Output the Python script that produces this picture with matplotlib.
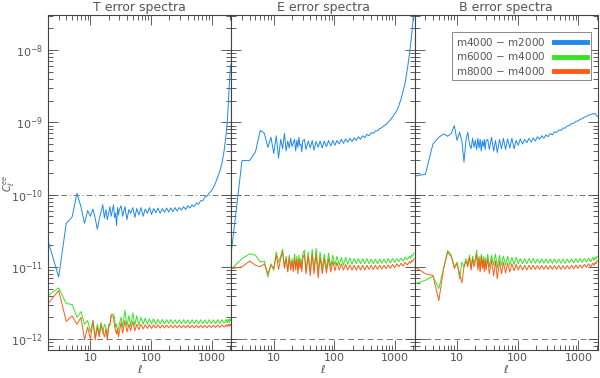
import numpy as np
import matplotlib
matplotlib.use("Agg")
import matplotlib.pyplot as plt
from matplotlib.ticker import FixedLocator, FixedFormatter, LogLocator, NullFormatter

# multipoles: every ell from 2 to 30, then a sparser log-ish grid up to 2048
ell_lo = list(range(2, 31))
ell_hi = [32, 34, 37, 40, 43, 46, 50, 54, 58, 63, 68, 74, 80, 87, 94, 102, 110, 120,
          130, 141, 153, 166, 180, 195, 211, 229, 248, 269, 292, 316, 343, 372, 403,
          437, 474, 514, 557, 604, 655, 710, 770, 835, 905, 981, 1064, 1153, 1250,
          1356, 1470, 1594, 1728, 1800, 1873, 1950, 2000, 2048]
ell = np.array(ell_lo + ell_hi)

panels = ["T", "E", "B"]
labels = ["m4000 $-$ m2000", "m6000 $-$ m4000", "m8000 $-$ m4000"]

# T spectra  (blue in 1e-10, green/orange in 1e-12)
T_m4000_m2000 = [0.23, 0.072, 0.40, 0.49, 1.04, 0.67, 0.40, 0.60, 0.50, 0.63, 0.47, 0.33,
                 0.46, 0.58, 0.72, 0.47, 0.62, 0.45, 0.55, 0.68, 0.50, 0.60, 0.72, 0.48,
                 0.55, 0.37, 0.66, 0.52, 0.62,
                 0.70, 0.50, 0.68, 0.45, 0.62, 0.55, 0.66, 0.48, 0.64, 0.52,
                 0.66, 0.50, 0.63, 0.55, 0.66, 0.53, 0.64, 0.56, 0.65, 0.55,
                 0.64, 0.57, 0.65, 0.57, 0.65, 0.58, 0.66, 0.59, 0.66, 0.61,
                 0.68, 0.62, 0.70, 0.65, 0.72, 0.68, 0.76, 0.73, 0.82, 0.82,
                 0.92, 0.95, 1.05, 1.12, 1.25, 1.45, 1.75, 2.1, 2.7, 4.0,
                 7.0, 10, 18, 35, 48, 62]
T_m6000_m4000 = [4.0, 5.1, 3.1, 3.0, 2.0, 2.4, 1.6, 1.8, 1.25, 1.8, 1.07, 1.6, 1.2, 1.7,
                 1.2, 1.6, 1.46, 1.07, 1.6, 1.55, 2.2, 2.2, 2.2, 2.0, 1.46, 1.6, 1.18,
                 1.4, 1.6,
                 2.0, 1.45, 2.5, 1.5, 2.1, 1.5, 2.3, 1.55, 2.1, 1.55,
                 2.0, 1.6, 1.95, 1.6, 1.9, 1.62, 1.9, 1.6, 1.88, 1.62,
                 1.86, 1.62, 1.86, 1.64, 1.86, 1.62, 1.85, 1.64, 1.84, 1.62,
                 1.85, 1.64, 1.84, 1.62, 1.85, 1.64, 1.84, 1.62, 1.85, 1.64,
                 1.84, 1.62, 1.85, 1.64, 1.84, 1.63, 1.86, 1.65, 1.85, 1.66,
                 1.87, 1.68, 1.88, 1.7, 1.9, 1.8]
T_m8000_m4000 = [3.1, 4.7, 1.75, 2.1, 1.6, 2.0, 0.97, 1.46, 1.0, 1.8, 0.97, 1.46, 1.07,
                 1.6, 1.3, 1.07, 1.38, 0.97, 1.46, 1.6, 2.1, 2.1, 2.0, 1.5, 1.3, 1.18,
                 1.38, 1.07, 1.25,
                 1.7, 1.2, 1.8, 1.25, 1.6, 1.3, 1.75, 1.3, 1.6, 1.35,
                 1.6, 1.38, 1.58, 1.4, 1.58, 1.4, 1.57, 1.42, 1.57, 1.42,
                 1.56, 1.42, 1.56, 1.43, 1.56, 1.43, 1.56, 1.43, 1.55, 1.43,
                 1.55, 1.43, 1.55, 1.43, 1.55, 1.43, 1.55, 1.43, 1.55, 1.43,
                 1.55, 1.43, 1.55, 1.44, 1.56, 1.44, 1.56, 1.45, 1.57, 1.46,
                 1.58, 1.48, 1.6, 1.5, 1.62, 1.55]

# E spectra  (blue in 1e-10, green/orange in 1e-11)
E_m4000_m2000 = [0.16, 2.95, 2.95, 3.9, 7.7, 7.0, 4.5, 6.2, 3.7, 6.5, 3.2, 5.8, 4.3, 7.0,
                 4.0, 5.5, 4.4, 6.0, 4.6, 5.2, 5.8, 4.0, 5.6, 4.5, 6.2, 4.8, 5.0, 3.9, 5.5,
                 5.8, 4.2, 5.5, 4.4, 5.6, 4.1, 5.4, 4.5, 5.5, 4.4,
                 5.5, 4.6, 5.6, 4.7, 5.6, 4.8, 5.6, 5.0, 5.8, 5.1,
                 5.9, 5.3, 6.0, 5.4, 6.1, 5.6, 6.3, 5.8, 6.5, 6.1,
                 6.8, 6.5, 7.2, 7.0, 7.6, 7.6, 8.2, 8.4, 9.0, 9.3,
                 10.0, 10.8, 11.8, 13.0, 14.5, 17.0, 21, 27, 36, 55,
                 90, 120, 160, 230, 300, 380]
E_m6000_m4000 = [0.94, 1.29, 1.51, 1.45, 1.16, 1.2, 0.72, 1.1, 0.89, 1.6, 1.15, 1.4, 1.75,
                 1.0, 1.4, 0.86, 1.45, 1.0, 1.3, 0.95, 1.5, 1.0, 1.4, 0.9, 1.45, 1.1, 1.3,
                 0.95, 1.5,
                 1.7, 0.9, 1.6, 0.85, 1.75, 0.9, 1.8, 0.85, 1.6, 0.95,
                 1.5, 0.95, 1.55, 1.0, 1.45, 1.05, 1.4, 1.05, 1.35, 1.05,
                 1.35, 1.08, 1.32, 1.08, 1.3, 1.1, 1.3, 1.1, 1.3, 1.1,
                 1.3, 1.1, 1.28, 1.1, 1.28, 1.1, 1.28, 1.12, 1.28, 1.12,
                 1.3, 1.12, 1.3, 1.15, 1.3, 1.18, 1.32, 1.2, 1.35, 1.25,
                 1.4, 1.3, 1.45, 1.4, 1.5, 1.55]
E_m8000_m4000 = [0.94, 1.0, 1.2, 1.05, 1.0, 1.1, 0.8, 1.05, 0.95, 1.45, 0.92, 1.3, 1.6,
                 0.95, 1.3, 0.85, 1.35, 0.9, 1.2, 0.85, 1.35, 0.9, 1.25, 0.8, 1.3, 0.95,
                 1.15, 0.85, 1.3,
                 1.5, 0.8, 1.4, 0.75, 1.5, 0.8, 1.5, 0.7, 1.35, 0.8,
                 1.3, 0.82, 1.3, 0.85, 1.2, 0.88, 1.15, 0.9, 1.1, 0.9,
                 1.08, 0.9, 1.06, 0.9, 1.05, 0.9, 1.05, 0.9, 1.05, 0.9,
                 1.05, 0.92, 1.05, 0.92, 1.05, 0.92, 1.05, 0.93, 1.05, 0.94,
                 1.06, 0.95, 1.08, 0.97, 1.1, 1.0, 1.12, 1.02, 1.15, 1.06,
                 1.18, 1.12, 1.22, 1.18, 1.25, 1.3]

# B spectra  (blue in 1e-10, green/orange in 1e-11)
B_m4000_m2000 = [1.8, 1.9, 5.0, 6.2, 6.9, 6.4, 7.0, 9.0, 5.6, 7.3, 5.5, 2.8, 5.6, 7.3,
                 5.0, 4.3, 6.0, 4.5, 5.6, 4.2, 6.0, 4.4, 5.8, 4.0, 5.5, 4.6, 5.8, 4.2, 5.5,
                 5.8, 4.2, 6.2, 4.0, 5.6, 3.8, 5.8, 4.3, 6.0, 4.2,
                 5.9, 4.4, 6.0, 4.3, 5.6, 4.8, 5.9, 5.0, 5.8, 5.2,
                 6.0, 5.3, 6.1, 5.5, 6.3, 5.8, 6.5, 6.0, 6.7, 6.3,
                 7.0, 6.7, 7.4, 7.2, 7.8, 7.7, 8.3, 8.3, 8.9, 9.0,
                 9.6, 9.7, 10.3, 10.4, 11.0, 11.2, 11.8, 12.0, 12.6, 12.7,
                 13.2, 13.0, 13.2, 12.6, 12.4, 12.0]
B_m6000_m4000 = [0.58, 0.65, 0.74, 0.50, 0.95, 1.68, 1.45, 1.0, 1.16, 0.68, 1.16, 1.0, 1.3,
                 1.1, 1.45, 0.95, 1.4, 1.1, 1.3, 1.7, 1.0, 1.4, 0.9, 1.5, 1.05, 1.4, 0.95,
                 1.35, 1.0,
                 1.5, 1.0, 1.45, 1.05, 1.5, 0.95, 1.45, 1.05, 1.4, 1.05,
                 1.4, 1.05, 1.35, 1.08, 1.35, 1.1, 1.3, 1.1, 1.3, 1.1,
                 1.3, 1.12, 1.3, 1.12, 1.28, 1.12, 1.28, 1.12, 1.28, 1.12,
                 1.28, 1.12, 1.28, 1.12, 1.28, 1.12, 1.28, 1.12, 1.28, 1.13,
                 1.28, 1.13, 1.3, 1.14, 1.3, 1.15, 1.3, 1.16, 1.32, 1.18,
                 1.34, 1.22, 1.36, 1.28, 1.38, 1.4]
B_m8000_m4000 = [1.0, 0.8, 0.76, 0.34, 0.95, 1.6, 1.4, 0.95, 1.1, 0.8, 0.6, 1.0, 1.2, 1.0,
                 1.35, 0.9, 1.3, 1.0, 1.2, 1.5, 0.9, 1.3, 0.85, 1.4, 0.95, 1.25, 0.85,
                 1.25, 0.9,
                 1.3, 0.8, 1.25, 0.75, 1.2, 0.68, 1.2, 0.8, 1.15, 0.82,
                 1.12, 0.85, 1.1, 0.88, 1.08, 0.9, 1.06, 0.9, 1.05, 0.9,
                 1.05, 0.92, 1.05, 0.92, 1.04, 0.92, 1.04, 0.92, 1.04, 0.92,
                 1.04, 0.92, 1.04, 0.92, 1.04, 0.92, 1.04, 0.93, 1.04, 0.93,
                 1.05, 0.94, 1.05, 0.95, 1.06, 0.96, 1.08, 0.98, 1.1, 1.0,
                 1.12, 1.04, 1.15, 1.1, 1.18, 1.22]

series = {
    "T": (np.array(T_m4000_m2000) * 1e-10, np.array(T_m6000_m4000) * 1e-12,
          np.array(T_m8000_m4000) * 1e-12),
    "E": (np.array(E_m4000_m2000) * 1e-10, np.array(E_m6000_m4000) * 1e-11,
          np.array(E_m8000_m4000) * 1e-11),
    "B": (np.array(B_m4000_m2000) * 1e-10, np.array(B_m6000_m4000) * 1e-11,
          np.array(B_m8000_m4000) * 1e-11),
}
colours = ["#1e88f0", "#33e622", "#ff5a1a"]
grey = "#555555"

fig = plt.figure(figsize=(6.0, 3.78), dpi=100)
W, H = 600.0, 378.0
left, right, top, bottom = 48, 598, 15, 350
pw = (right - left) / 3.0

axes = []
for i, p in enumerate(panels):
    ax = fig.add_axes([(left + i * pw) / W, (H - bottom) / H, pw / W, (bottom - top) / H])
    axes.append(ax)
    ax.set_xscale("log")
    ax.set_yscale("log")
    ax.set_xlim(2, 2100)
    ax.set_ylim(7.05e-13, 3.05e-8)

    ax.axhline(1e-10, color="#777777", lw=0.7, ls=(0, (6, 3, 1, 3)), zorder=1)
    ax.axhline(1e-12, color="#777777", lw=0.7, ls=(0, (6, 4)), zorder=1)

    for y, c, lab in zip(series[p], colours, labels):
        ax.plot(ell, y, color=c, lw=0.7, label=lab, zorder=2)

    ax.set_title(f"{p} error spectra", color=grey, fontsize=9, pad=3)
    ax.set_xlabel(r"$\ell$", color=grey, fontsize=8, labelpad=0)

    ax.xaxis.set_major_locator(FixedLocator([10, 100, 1000]))
    ax.xaxis.set_major_formatter(FixedFormatter(["10", "100", "1000"]))
    ax.xaxis.set_minor_locator(LogLocator(base=10, subs=np.arange(2, 10), numticks=20))
    ax.xaxis.set_minor_formatter(NullFormatter())
    ax.yaxis.set_minor_locator(LogLocator(base=10, subs=np.arange(2, 10), numticks=20))
    ax.yaxis.set_minor_formatter(NullFormatter())

    ax.tick_params(which="both", direction="in", top=True, right=True,
                   colors="#444444", labelcolor=grey, labelsize=8, width=0.6)
    ax.tick_params(which="major", length=7)
    ax.tick_params(which="minor", length=3.5)
    ax.tick_params(axis="x", pad=2)
    if i > 0:
        ax.tick_params(labelleft=False)
    for s in ax.spines.values():
        s.set_color("#444444")
        s.set_linewidth(0.8)

fig.text(9 / W, 1 - 183 / H, r"$C_\ell^{ee}$", color=grey, fontsize=7,
         rotation=90, ha="center", va="center")

leg = axes[2].legend(loc="upper right", bbox_to_anchor=(0.99, 0.965), markerfirst=False,
                     fontsize=7.5, handlelength=3.2, borderpad=0.35, labelspacing=0.25,
                     handletextpad=0.8, fancybox=False, framealpha=1)
leg.get_frame().set_edgecolor("#777777")
leg.get_frame().set_linewidth(0.6)
for t in leg.get_texts():
    t.set_color(grey)
for h in leg.get_lines():
    h.set_linewidth(3.5)

fig.savefig("out.png", dpi=100)
